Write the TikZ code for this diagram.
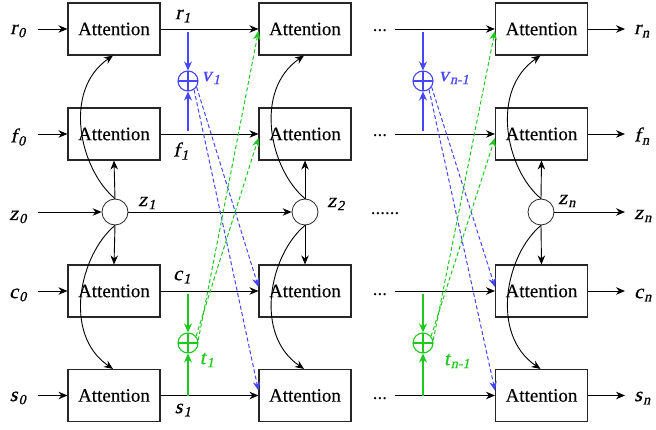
\documentclass[tikz,border=0pt]{standalone}
\usepackage{fontspec}
\setmainfont{Liberation Serif}
\newfontfamily\labfont{Liberation Serif}[FakeSlant=0.22,FakeBold=0.7]
\newfontfamily\boxfont{Liberation Serif}[FakeBold=0.3]
\newcommand\labsub[1]{\kern1.2pt\textsubscript{#1}}
\usetikzlibrary{arrows.meta}
\definecolor{myblue}{RGB}{70,70,255}
\definecolor{mygreen}{RGB}{30,200,30}
\begin{document}
\begin{tikzpicture}[x=1pt,y=-1pt,
  attn/.style={draw=black!85, line width=1.1pt, minimum width=92pt, minimum height=52pt, inner sep=0pt, font=\boxfont\fontsize{19}{22}\selectfont},
  mix/.style={draw=black!85, circle, minimum size=26pt, inner sep=0pt, line width=0.8pt},
  lab/.style={font=\labfont\fontsize{20}{22}\selectfont, inner sep=0pt},
  dots/.style={font=\fontsize{19}{22}\selectfont, inner sep=0pt},
  arr/.style={-{Stealth[length=9pt,width=7.5pt]}, line width=0.9pt},
  carr/.style={-{Stealth[length=9pt,width=8pt]}, line width=1.2pt},
  darr/.style={-{Stealth[length=9pt,width=7.5pt]}, line width=1pt, dash pattern=on 4pt off 2.5pt},
  oplus/.style={circle, draw, minimum size=20pt, inner sep=0pt, line width=1.1pt,
    path picture={\draw[line width=1.4pt] (path picture bounding box.north) -- (path picture bounding box.south)
      (path picture bounding box.west) -- (path picture bounding box.east);}}
]
\useasboundingbox (0,0) rectangle (656,430);

% boxes
\node[attn] (A1r) at (114,29) {Attention};
\node[attn] (A1f) at (114,134) {Attention};
\node[attn] (A1c) at (114,291) {Attention};
\node[attn] (A1s) at (114,395.5) {Attention};
\node[attn] (A2r) at (305,29) {Attention};
\node[attn] (A2f) at (305,134) {Attention};
\node[attn] (A2c) at (305,291) {Attention};
\node[attn] (A2s) at (305,395.5) {Attention};
\node[attn] (A3r) at (541.5,29) {Attention};
\node[attn] (A3f) at (541.5,134) {Attention};
\node[attn] (A3c) at (541.5,291) {Attention};
\node[attn] (A3s) at (541.5,395.5) {Attention};

% mixing circles
\node[mix] (M1) at (115,212) {};
\node[mix] (M2) at (305,212) {};
\node[mix] (M3) at (541,212) {};

% oplus
\node[oplus, draw=myblue] (V1) at (188,81) {};
\node[oplus, draw=myblue] (V2) at (423,81) {};
\node[oplus, draw=mygreen] (T1) at (188,343) {};
\node[oplus, draw=mygreen] (T2) at (423,343) {};

% left labels
\node[lab] (r0) at (18,31) {r\labsub{0}};
\node[lab] (f0) at (18,137) {f\labsub{0}};
\node[lab] (z0) at (18,217) {z\labsub{0}};
\node[lab] (c0) at (18,295) {c\labsub{0}};
\node[lab] (s0) at (18,398) {s\labsub{0}};

% right labels
\node[lab, anchor=west] (rn) at (634,31) {r\labsub{n}};
\node[lab, anchor=west] (fn) at (634,136) {f\labsub{n}};
\node[lab, anchor=west] (zn) at (634,216) {z\labsub{n}};
\node[lab, anchor=west] (cn) at (634,295) {c\labsub{n}};
\node[lab, anchor=west] (sn) at (634,398) {s\labsub{n}};

% inner labels
\node[lab] (r1) at (183,16) {r\labsub{1}};
\node[lab] (f1) at (181,151) {f\labsub{1}};
\node[lab] (z1) at (147,203) {z\labsub{1}};
\node[lab] (c1) at (182,277) {c\labsub{1}};
\node[lab] (s1) at (183,410) {s\labsub{1}};
\node[lab] (z2) at (336,204) {z\labsub{2}};
\node[lab] (zn2) at (567,201) {z\labsub{n}};
\node[lab, text=myblue] (v1) at (211,78) {v\labsub{1}};
\node[lab, text=mygreen] (t1) at (207,360) {t\labsub{1}};
\node[lab, text=myblue] (vn) at (454,78) {v\labsub{n-1}};
\node[lab, text=mygreen] (tn) at (457,361) {t\labsub{n-1}};

% dots
\node[dots] (d1) at (380,31) {...};
\node[dots] (d2) at (380,136) {...};
\node[dots] (d3) at (385,214) {......};
\node[dots] (d4) at (380,295) {...};
\node[dots] (d5) at (380,399) {...};

% connector start/end coordinates
\coordinate (ir) at (38,29);
\coordinate (if) at (38,134);
\coordinate (iz) at (38,212);
\coordinate (ic) at (38,291);
\coordinate (is) at (38,395.5);
\coordinate (jr) at (395,29);
\coordinate (jf) at (395,134);
\coordinate (jc) at (395,291);
\coordinate (js) at (395,395.5);
\coordinate (or) at (625,29);
\coordinate (of) at (625,134);
\coordinate (oz) at (625,212);
\coordinate (oc) at (625,291);
\coordinate (os) at (625,395.5);

% input arrows
\draw[arr] (ir) -- (A1r.west);
\draw[arr] (if) -- (A1f.west);
\draw[arr] (iz) -- (M1.west);
\draw[arr] (ic) -- (A1c.west);
\draw[arr] (is) -- (A1s.west);

% col1 -> col2
\draw[arr] (A1r.east) -- (A2r.west);
\draw[arr] (A1f.east) -- (A2f.west);
\draw[arr] (M1.east) -- (M2.west);
\draw[arr] (A1c.east) -- (A2c.west);
\draw[arr] (A1s.east) -- (A2s.west);

% into col3
\draw[arr] (jr) -- (A3r.west);
\draw[arr] (jf) -- (A3f.west);
\draw[arr] (jc) -- (A3c.west);
\draw[arr] (js) -- (A3s.west);

% outputs
\draw[arr] (A3r.east) -- (or);
\draw[arr] (A3f.east) -- (of);
\draw[arr] (M3.east) -- (oz);
\draw[arr] (A3c.east) -- (oc);
\draw[arr] (A3s.east) -- (os);

% vertical arrows and curves from mixing circles
\foreach \m/\n in {M1/A1, M2/A2, M3/A3}{
  \draw[arr] (\m.north) -- (\n f.south);
  \draw[arr] (\m.south) -- (\n c.north);
  \draw[arr] (\m.north) .. controls +(-35,-29) and +(-51,35) .. ([xshift=-1pt]\n r.south);
  \draw[arr] (\m.south) .. controls +(-35,29) and +(-51,-35) .. ([xshift=-1pt]\n s.north);
}

% blue/green solid arrows into oplus
\draw[carr, myblue] ([yshift=-3pt]V1 |- A1r.east) -- (V1.north);
\draw[carr, myblue] ([yshift=3pt]V1 |- A1f.east) -- (V1.south);
\draw[carr, mygreen] ([yshift=-3pt]T1 |- A1c.east) -- (T1.north);
\draw[carr, mygreen] (T1 |- A1s.east) -- (T1.south);
\draw[carr, myblue] ([yshift=-3pt]V2 |- A3r.west) -- (V2.north);
\draw[carr, myblue] ([yshift=3pt]V2 |- A3f.west) -- (V2.south);
\draw[carr, mygreen] ([yshift=-3pt]T2 |- A3c.west) -- (T2.north);
\draw[carr, mygreen] (T2 |- A3s.west) -- (T2.south);

% dashed cross connections
\draw[darr, myblue] (V1.-35) -- ([yshift=4pt]A2c.west);
\draw[darr, myblue] (V1.-55) -- ([yshift=5pt]A2s.west);
\draw[darr, mygreen] (T1.15) -- ([yshift=-2pt]A2r.west);
\draw[darr, mygreen] (T1.40) -- ([yshift=-4pt]A2f.west);
\draw[darr, myblue] (V2.-35) -- ([yshift=4pt]A3c.west);
\draw[darr, myblue] (V2.-55) -- ([yshift=5pt]A3s.west);
\draw[darr, mygreen] (T2.15) -- ([yshift=-2pt]A3r.west);
\draw[darr, mygreen] (T2.40) -- ([yshift=-4pt]A3f.west);
\end{tikzpicture}
\end{document}
